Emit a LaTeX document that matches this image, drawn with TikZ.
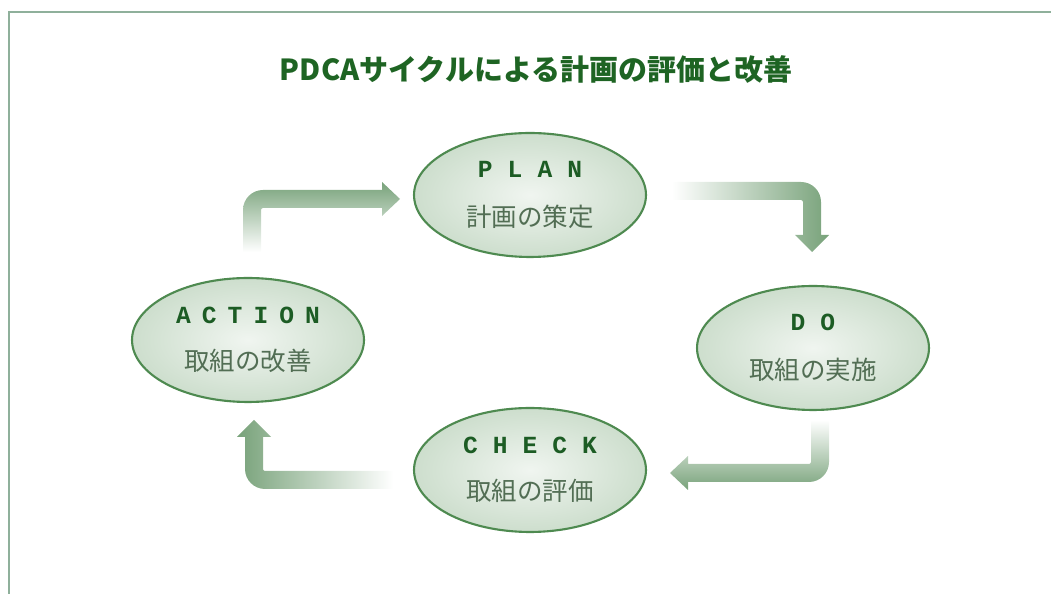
\documentclass[tikz,border=0pt]{standalone}
\usepackage{fontspec}
\setmainfont{Noto Sans CJK JP}
\newfontfamily\enfont{Liberation Mono}
\usetikzlibrary{shapes.geometric}

\definecolor{framegreen}{RGB}{143,176,155}
\definecolor{titlegreen}{RGB}{30,100,35}
\definecolor{ringgreen}{RGB}{78,138,80}
\definecolor{ellgreen}{RGB}{205,222,205}
\definecolor{engreen}{RGB}{28,92,36}
\definecolor{jpgray}{RGB}{82,110,84}
\definecolor{arrowgreen}{RGB}{120,162,122}

\tikzset{
  phase/.style={ellipse, draw=ringgreen, line width=1.2pt,
    inner color=white!70!ellgreen, outer color=ellgreen,
    minimum width=4.64cm, minimum height=2.48cm, inner sep=0pt,
    align=center, font=\fontsize{14}{17}\selectfont},
}
\newcommand{\en}[2][61]{{\enfont\bfseries\color{engreen}\addfontfeature{LetterSpace=#1}#2}}
\newcommand{\jp}[1]{{\color{jpgray}\fontsize{14.5}{17}\selectfont #1}}

\begin{document}
\begin{tikzpicture}[x=0.02cm, y=0.02cm]
  \useasboundingbox (0,0) rectangle (1051,594);
  % frame, top and left only
  \draw[framegreen, line width=1.1pt] (9,0) -- (9,582) -- (1051,582);

  \node[text=titlegreen, font=\bfseries\fontsize{16.5}{20}\selectfont] (title) at (536,524)
    {PDCAサイクルによる計画の評価と改善};

  \node[phase] (plan)   at (530,399) {\en{PLAN}\\[11pt]\jp{計画の策定}};
  \node[phase] (do)     at (813,246) {\en{DO}\\[11pt]\jp{取組の実施}};
  \node[phase] (check)  at (530,124) {\en{CHECK}\\[10pt]\jp{取組の評価}};
  \node[phase] (action) at (248,254) {\en[45]{ACTION}\\[10pt]\jp{取組の改善}};

  % action -> plan
  \shade[bottom color=white, top color=arrowgreen]
    (243,342) -- (243,384) arc[start angle=180, end angle=90, radius=20]
    -- (382,404) -- (382,412) -- (400,395) -- (382,378) -- (382,386)
    -- (263,386) arc[start angle=90, end angle=180, radius=2] -- (261,342) -- cycle;
  % plan -> do
  \shade[left color=white, right color=arrowgreen]
    (672,412) -- (801,412) arc[start angle=90, end angle=0, radius=20]
    -- (821,359) -- (829,359) -- (812,342) -- (795,359) -- (803,359)
    -- (803,392) arc[start angle=0, end angle=90, radius=2] -- (672,394) -- cycle;
  % do -> check
  \shade[top color=white, bottom color=arrowgreen]
    (829,174) -- (829,132) arc[start angle=0, end angle=-90, radius=20]
    -- (688,112) -- (688,104) -- (670,121) -- (688,138) -- (688,130)
    -- (809,130) arc[start angle=-90, end angle=0, radius=2] -- (811,174) -- cycle;
  % check -> action
  \shade[right color=white, left color=arrowgreen]
    (393,105) -- (265,105) arc[start angle=-90, end angle=-180, radius=20]
    -- (245,157) -- (237,157) -- (254,174) -- (271,157) -- (263,157)
    -- (263,125) arc[start angle=180, end angle=270, radius=2] -- (393,123) -- cycle;
\end{tikzpicture}
\end{document}
